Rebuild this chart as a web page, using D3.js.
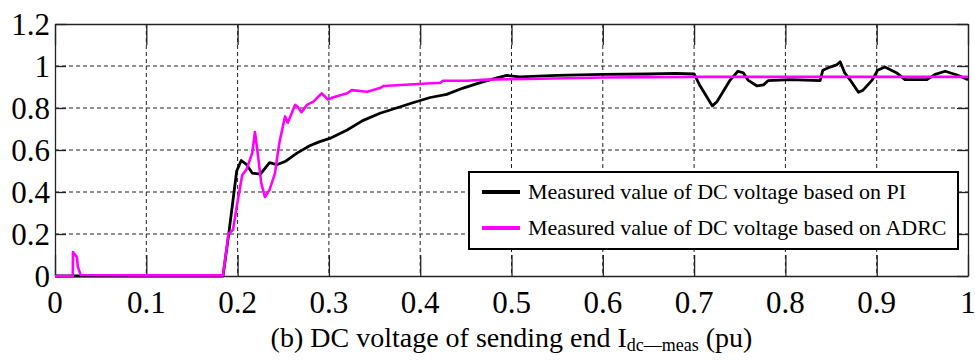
<!DOCTYPE html>
<html>
<head>
<meta charset="utf-8">
<script src="https://cdn.jsdelivr.net/npm/d3@7"></script>
<style>
  html, body { margin: 0; padding: 0; background: #fff; }
  svg { display: block; }
  text { font-family: "Liberation Serif", "Times New Roman", Times, "DejaVu Serif", serif; }
</style>
</head>
<body>
<script>
// ---- data ----
const xTicks = [0, 0.1, 0.2, 0.3, 0.4, 0.5, 0.6, 0.7, 0.8, 0.9, 1];
const yTicks = [0, 0.2, 0.4, 0.6, 0.8, 1, 1.2];
const xTickLabels = ["0", "0.1", "0.2", "0.3", "0.4", "0.5", "0.6", "0.7", "0.8", "0.9", "1"];
const yTickLabels = ["0", "0.2", "0.4", "0.6", "0.8", "1", "1.2"];

const piT = [0, 0.184, 0.19, 0.199, 0.204, 0.21, 0.216, 0.225, 0.235, 0.243, 0.252, 0.265, 0.279, 0.29, 0.301, 0.32, 0.337, 0.356, 0.374, 0.392, 0.411, 0.429, 0.447, 0.465, 0.484, 0.495, 0.509, 0.55, 0.6, 0.65, 0.68, 0.7, 0.706, 0.72, 0.725, 0.739, 0.748, 0.754, 0.759, 0.769, 0.776, 0.781, 0.805, 0.838, 0.841, 0.849, 0.856, 0.86, 0.865, 0.871, 0.88, 0.885, 0.895, 0.901, 0.909, 0.922, 0.931, 0.955, 0.964, 0.975, 0.988, 1.0];
const piV = [0, 0, 0.19, 0.5, 0.55, 0.53, 0.49, 0.485, 0.54, 0.53, 0.545, 0.585, 0.62, 0.64, 0.655, 0.695, 0.74, 0.775, 0.8, 0.825, 0.85, 0.865, 0.895, 0.92, 0.943, 0.955, 0.948, 0.955, 0.96, 0.962, 0.965, 0.962, 0.91, 0.81, 0.83, 0.93, 0.975, 0.967, 0.933, 0.905, 0.91, 0.93, 0.935, 0.93, 0.98, 0.995, 1.005, 1.02, 0.967, 0.933, 0.875, 0.885, 0.933, 0.98, 0.995, 0.967, 0.935, 0.935, 0.96, 0.975, 0.957, 0.935];

const adrcT = [0, 0.0195, 0.0197, 0.024, 0.025, 0.028, 0.1, 0.184, 0.19, 0.195, 0.199, 0.205, 0.21, 0.216, 0.219, 0.222, 0.226, 0.23, 0.235, 0.241, 0.244, 0.246, 0.252, 0.255, 0.263, 0.266, 0.27, 0.276, 0.283, 0.292, 0.299, 0.304, 0.32, 0.325, 0.342, 0.356, 0.36, 0.422, 0.425, 0.451, 0.473, 0.517, 0.6, 0.7, 1.0];
const adrcV = [0, 0, 0.114, 0.09, 0.045, 0.005, 0.003, 0.003, 0.2, 0.22, 0.33, 0.48, 0.51, 0.585, 0.686, 0.585, 0.44, 0.376, 0.41, 0.49, 0.585, 0.64, 0.76, 0.73, 0.815, 0.805, 0.78, 0.815, 0.83, 0.87, 0.84, 0.85, 0.87, 0.885, 0.877, 0.895, 0.905, 0.92, 0.93, 0.93, 0.935, 0.938, 0.945, 0.948, 0.948];

const seriesNames = ["Measured value of DC voltage based on PI", "Measured value of DC voltage based on ADRC"];
const seriesColors = ["#000000", "#ff00ff"];

// ---- layout ----
const W = 975, H = 360;
const m = { left: 55, right: 7, top: 24, bottom: 84 };
const iw = W - m.left - m.right, ih = H - m.top - m.bottom;

const svg = d3.select("body").append("svg").attr("width", W).attr("height", H);
const g = svg.append("g").attr("transform", `translate(${m.left},${m.top})`);

const x = d3.scaleLinear().domain([0, 1]).range([0, iw]);
const y = d3.scaleLinear().domain([0, 1.2]).range([ih, 0]);

// grid
g.append("g").selectAll("line").data(xTicks.slice(1, -1)).join("line")
  .attr("x1", d => x(d)).attr("x2", d => x(d)).attr("y1", 0).attr("y2", ih)
  .attr("stroke", "#222").attr("stroke-width", 1).attr("stroke-dasharray", "4,3");
g.append("g").selectAll("line").data(yTicks.slice(1, -1)).join("line")
  .attr("y1", d => y(d)).attr("y2", d => y(d)).attr("x1", 0).attr("x2", iw)
  .attr("stroke", "#222").attr("stroke-width", 1).attr("stroke-dasharray", "4,3");

// axes with inward ticks
const xAxisB = d3.axisBottom(x).tickValues(xTicks).tickSizeInner(-21).tickSizeOuter(0).tickFormat("");
const xAxisT = d3.axisTop(x).tickValues(xTicks).tickSizeInner(-21).tickSizeOuter(0).tickFormat("");
const yAxisL = d3.axisLeft(y).tickValues(yTicks).tickSizeInner(-11).tickSizeOuter(0).tickFormat("");
const yAxisR = d3.axisRight(y).tickValues(yTicks).tickSizeInner(-11).tickSizeOuter(0).tickFormat("");
[[xAxisB, `translate(0,${ih})`], [xAxisT, "translate(0,0)"], [yAxisL, "translate(0,0)"], [yAxisR, `translate(${iw},0)`]].forEach(([ax, tr]) => {
  const a = g.append("g").attr("transform", tr).call(ax);
  a.selectAll("path").attr("stroke", "#222").attr("stroke-width", 1.3);
  a.selectAll("line").attr("stroke", "#222").attr("stroke-width", 1.3);
});

// tick labels
g.append("g").selectAll("text").data(xTicks).join("text")
  .attr("x", d => x(d)).attr("y", ih + 37)
  .attr("text-anchor", "middle").attr("font-size", 31).attr("fill", "#000")
  .text((d, i) => xTickLabels[i]);
g.append("g").selectAll("text").data(yTicks).join("text")
  .attr("x", -5).attr("y", d => y(d)).attr("dy", "0.34em")
  .attr("text-anchor", "end").attr("font-size", 31).attr("fill", "#000")
  .text((d, i) => yTickLabels[i]);

// lines
const line = d3.line().x(d => x(d[0])).y(d => y(d[1]));
const piData = piT.map((t, i) => [t, piV[i]]);
const adrcData = adrcT.map((t, i) => [t, adrcV[i]]);
g.append("path").datum(piData).attr("d", line).attr("fill", "none")
  .attr("stroke", seriesColors[0]).attr("stroke-width", 2.8).attr("stroke-linejoin", "round");
g.append("path").datum(adrcData).attr("d", line).attr("fill", "none")
  .attr("stroke", seriesColors[1]).attr("stroke-width", 2.6).attr("stroke-linejoin", "round");

// legend
const lg = svg.append("g").attr("transform", "translate(469,172)");
lg.append("rect").attr("width", 489).attr("height", 77).attr("fill", "#fff").attr("stroke", "#000").attr("stroke-width", 2);
seriesNames.forEach((name, i) => {
  const yy = 20 + i * 36;
  lg.append("line").attr("x1", 13).attr("x2", 51).attr("y1", yy).attr("y2", yy)
    .attr("stroke", seriesColors[i]).attr("stroke-width", 4);
  lg.append("text").attr("x", 59).attr("y", yy).attr("dy", "0.33em")
    .attr("font-size", 22).attr("fill", "#000").text(name);
});

// title with subscript
const title = svg.append("text").attr("x", m.left + iw / 2).attr("y", 347)
  .attr("text-anchor", "middle").attr("font-size", 28).attr("fill", "#000");
title.append("tspan").text("(b) DC voltage of sending end I");
title.append("tspan").attr("font-size", 18).attr("dy", 4).text("dc\u2014meas");
title.append("tspan").attr("dy", -4).text(" (pu)");
</script>
</body>
</html>
